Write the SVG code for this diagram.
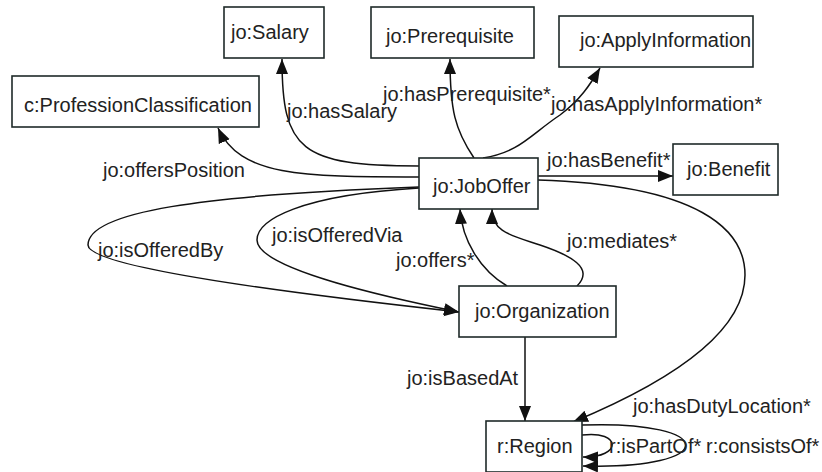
<svg xmlns="http://www.w3.org/2000/svg" width="822" height="472" viewBox="0 0 822 472">
<defs>
<style>
.node rect{fill:#fff;stroke:#1e2a28;stroke-width:1.6}
text{font-family:"Liberation Sans",Arial,sans-serif;font-size:20px;fill:#222}
.edges path{fill:none;stroke:#111;stroke-width:1.5}
.arr{marker-end:url(#ah)}
</style>
<marker id="ah" markerUnits="userSpaceOnUse" markerWidth="16" markerHeight="13" refX="15" refY="6" orient="auto">
<path d="M0,0 L15,6 L0,12 z" fill="#111"/>
</marker>
</defs>
<rect width="822" height="472" fill="#fff"/>
<g class="edges">
<path class="arr" d="M419,166 C300,166 282,150 282,59"/>
<path class="arr" d="M419,177 C300,177 240,176 218,128"/>
<path class="arr" d="M419,187 C200,195 88,212 88,245 C88,270 350,300 459,312"/>
<path class="arr" d="M419,188 C300,195 257,220 257,240 C257,270 400,300 459,312"/>
<path class="arr" d="M507,286 C480,270 462,240 460,209"/>
<path class="arr" d="M577,286 C595,268 570,255 540,245 C510,235 492,232 492,209"/>
<path class="arr" d="M538,176 L673,176"/>
<path class="arr" d="M474,158 C455,130 450,110 450,59"/>
<path class="arr" d="M483,158 C520,152 530,135 560,115 C580,100 590,85 600,68"/>
<path class="arr" d="M538,180 C700,185 745,230 745,275 C745,340 650,390 573,422"/>
<path class="arr" d="M525,337 L525,421"/>
<path class="arr" d="M582,435 C622,430 622,458 583,457"/>
<path class="arr" d="M582,425 C720,420 720,470 583,466"/>
</g>
<g id="salary" class="node"><rect x="224" y="7" width="100" height="51"/><text x="231" y="39">jo:Salary</text></g>
<g id="prerequisite" class="node"><rect x="371" y="7" width="163" height="51"/><text x="386" y="43">jo:Prerequisite</text></g>
<g id="applyinfo" class="node"><rect x="559" y="16" width="194" height="51"/><text x="580" y="47">jo:ApplyInformation</text></g>
<g id="profession" class="node"><rect x="12" y="76" width="247" height="51"/><text x="24" y="112">c:ProfessionClassification</text></g>
<g id="joboffer" class="node"><rect x="419" y="158" width="119" height="51"/><text x="433" y="193">jo:JobOffer</text></g>
<g id="benefit" class="node"><rect x="673" y="144" width="105" height="51"/><text x="687" y="176">jo:Benefit</text></g>
<g id="organization" class="node"><rect x="459" y="286" width="157" height="51"/><text x="475" y="318">jo:Organization</text></g>
<g id="region" class="node"><rect x="486" y="421" width="96" height="51"/><text x="497" y="453">r:Region</text></g>
<g id="labels">
<text x="287" y="118">jo:hasSalary</text>
<text x="383" y="101">jo:hasPrerequisite*</text>
<text x="551" y="111">jo:hasApplyInformation*</text>
<text x="103" y="177">jo:offersPosition</text>
<text x="547" y="167">jo:hasBenefit*</text>
<text x="98" y="257">jo:isOfferedBy</text>
<text x="272" y="242">jo:isOfferedVia</text>
<text x="396" y="267">jo:offers*</text>
<text x="567" y="248">jo:mediates*</text>
<text x="407" y="385">jo:isBasedAt</text>
<text x="633" y="413">jo:hasDutyLocation*</text>
<text x="609" y="453">r:isPartOf*</text>
<text x="706" y="453">r:consistsOf*</text>
</g>
</svg>
